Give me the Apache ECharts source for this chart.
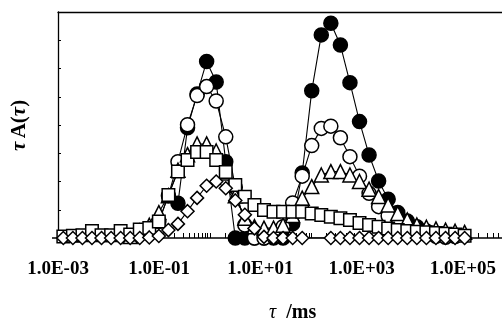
<!DOCTYPE html>
<html>
<head>
<meta charset="utf-8">
<script src="https://cdn.jsdelivr.net/npm/echarts@6/dist/echarts.min.js"></script>
<style>
html, body { margin: 0; padding: 0; background: #fff; }
#chart { width: 502px; height: 322px; }
</style>
</head>
<body>
<div id="chart"></div>
<script>
// relaxation time grid (tau / ms)
const tau = [0.001274, 0.001968, 0.00304, 0.00469, 0.00724, 0.01119, 0.01727, 0.02667, 0.0412, 0.0636,
    0.0982, 0.1517, 0.2342, 0.362, 0.559, 0.863, 1.333, 2.06, 3.18, 4.91,
    7.59, 11.72, 18.09, 27.9, 43.2, 66.7, 102.9, 158.9, 245.4, 379,
    585, 904, 1396, 2155, 3327, 5140, 7940, 12270, 18930, 29240,
    45200, 69800, 107700];

// tau*A(tau), arbitrary units
const filledCircle = [null, null, null, null, null, null, null, null, null, null,
    null, null, 1.23, 3.9, 5.1, 6.25, 5.52, 2.7, 0, 0,
    0, 0, 0, 0, 0.5, 2.3, 5.21, 7.19, 7.6, 6.83,
    5.5, 4.12, 2.94, 2.02, 1.37, 0.9, 0.6, 0.4, 0.25, 0.15,
    0.1, 0.05, null];
const openCircle = [null, null, null, null, null, null, null, null, null, null,
    0.58, 1.5, 2.7, 4.01, 5.04, 5.36, 4.85, 3.58, 1.8, 0.46,
    0, 0, 0.05, 0.4, 1.24, 2.19, 3.27, 3.88, 3.96, 3.55,
    2.88, 2.19, 1.58, 1.11, 0.78, 0.46, 0.3, 0.2, 0.12, 0.06,
    0.03, null, null];
const triangle = [null, null, null, null, null, null, null, 0.05, 0.25, 0.45,
    0.9, 1.5, 2.4, 2.95, 3.33, 3.33, 3.08, 2.3, 1.5, 0.7,
    0.4, 0.35, 0.35, 0.45, 0.8, 1.41, 1.82, 2.23, 2.35, 2.35,
    2.23, 2.0, 1.73, 1.47, 1.17, 0.87, 0.64, 0.46, 0.38, 0.32,
    0.28, 0.24, 0.2];
const square = [0.05, 0.08, 0.1, 0.25, 0.1, 0.1, 0.25, 0.12, 0.3, 0.35,
    0.58, 1.52, 2.35, 2.76, 3.04, 3.04, 2.76, 2.34, 1.88, 1.46,
    1.17, 0.99, 0.93, 0.93, 0.93, 0.93, 0.87, 0.81, 0.75, 0.7,
    0.64, 0.53, 0.46, 0.4, 0.34, 0.28, 0.25, 0.22, 0.2, 0.18,
    0.15, 0.12, 0.08];
const diamond = [0, 0, 0, 0, 0, 0, 0, 0, 0, 0.02,
    0.07, 0.28, 0.5, 0.95, 1.42, 1.85, 2.0, 1.76, 1.33, 0.82,
    0.34, 0.04, 0, 0, 0, 0, null, null, 0, 0,
    0, 0, 0, 0, 0, 0, 0, 0, 0, 0,
    0, 0, 0];

const xLabels = [1e-3, 1e-1, 1e1, 1e3, 1e5];

const serif = 'Liberation Serif';
const xMin = 1e-3, xMax = 5.9e5;   // the frame runs off the right edge

// log minor ticks 1..9 in each decade
let xTicks = [];
for (let e = -3; e <= 5; e++) {
    for (let m = 1; m <= 9; m++) {
        if (m * Math.pow(10, e) <= xMax) xTicks.push(m * Math.pow(10, e));
    }
}

const toPairs = (arr) => arr.map((v, i) => [tau[i], v]).filter(p => p[1] != null);

const makeSeries = (name, arr, symbol, size, fill) => ({
    name,
    type: 'line',
    data: toPairs(arr),
    symbol,
    symbolSize: size,
    showAllSymbol: true,
    lineStyle: { color: '#000', width: 1.1 },
    itemStyle: { color: fill, borderColor: '#000', borderWidth: 1.5 },
    emphasis: { disabled: true }
});

const fmtLabel = (v) => {
    const e = Math.round(Math.log10(v));
    const a = Math.abs(e);
    return '1.0E' + (e < 0 ? '-' : '+') + (a < 10 ? '0' + a : a);
};

let chart = echarts.init(document.getElementById('chart'));

chart.setOption({
    animation: false,
    backgroundColor: '#fff',
    grid: { left: 58, right: 0, top: 12, bottom: 84 },
    xAxis: [{
        type: 'log',
        min: xMin,
        max: xMax,
        axisLine: { onZero: false, lineStyle: { color: '#000', width: 1.5 } },
        axisTick: { inside: true, length: 5, customValues: xTicks, lineStyle: { color: '#000' } },
        axisLabel: {
            customValues: xLabels,
            formatter: fmtLabel,
            fontFamily: serif,
            fontWeight: 'bold',
            fontSize: 19,
            color: '#000',
            margin: 22
        },
        splitLine: { show: false }
    }, {
        // top edge of the frame
        type: 'log',
        position: 'top',
        min: xMin,
        max: xMax,
        axisLine: { show: true, onZero: false, lineStyle: { color: '#000', width: 1.3 } },
        axisTick: { show: false },
        axisLabel: { show: false },
        splitLine: { show: false }
    }],
    yAxis: [{
        type: 'value',
        min: 0,
        max: 8,
        interval: 1,
        axisLine: { show: true, lineStyle: { color: '#000', width: 1.3 } },
        axisTick: { show: true, inside: true, length: 3, customValues: [1, 2, 3, 4, 5, 6, 7], lineStyle: { color: '#000' } },
        axisLabel: { show: false },
        splitLine: { show: false }
    }, {
        type: 'value',
        position: 'left',
        min: 0,
        max: 8,
        interval: 1,
        axisLine: { show: false },
        axisTick: { show: true, length: 6, customValues: [0], lineStyle: { color: '#000', width: 1.5 } },
        axisLabel: { show: false },
        splitLine: { show: false }
    }],
    series: [
        makeSeries('filled', filledCircle, 'circle', 14, '#000'),
        makeSeries('open', openCircle, 'circle', 14, '#fff'),
        makeSeries('triangle', triangle, 'triangle', 14, '#fff'),
        makeSeries('square', square, 'rect', 12.5, '#fff'),
        makeSeries('diamond', diamond, 'diamond', 13, '#fff')
    ],
    graphic: [{
        type: 'text',
        x: 20,
        y: 151,
        rotation: Math.PI / 2,
        style: {
            text: '{i|τ} {b|A(}{i|τ}{b|)}',
            align: 'left',
            verticalAlign: 'middle',
            fill: '#000',
            rich: {
                i: { fontFamily: serif, fontStyle: 'italic', fontWeight: 'bold', fontSize: 21, fill: '#000' },
                b: { fontFamily: serif, fontWeight: 'bold', fontSize: 21, fill: '#000' }
            }
        }
    }, {
        type: 'text',
        x: 269,
        y: 313,
        style: {
            text: '{i|τ}   {b|/ms}',
            align: 'left',
            verticalAlign: 'middle',
            fill: '#000',
            rich: {
                i: { fontFamily: serif, fontStyle: 'italic', fontSize: 20, fill: '#000' },
                b: { fontFamily: serif, fontWeight: 'bold', fontSize: 20, fill: '#000' }
            }
        }
    }]
});
</script>
</body>
</html>
